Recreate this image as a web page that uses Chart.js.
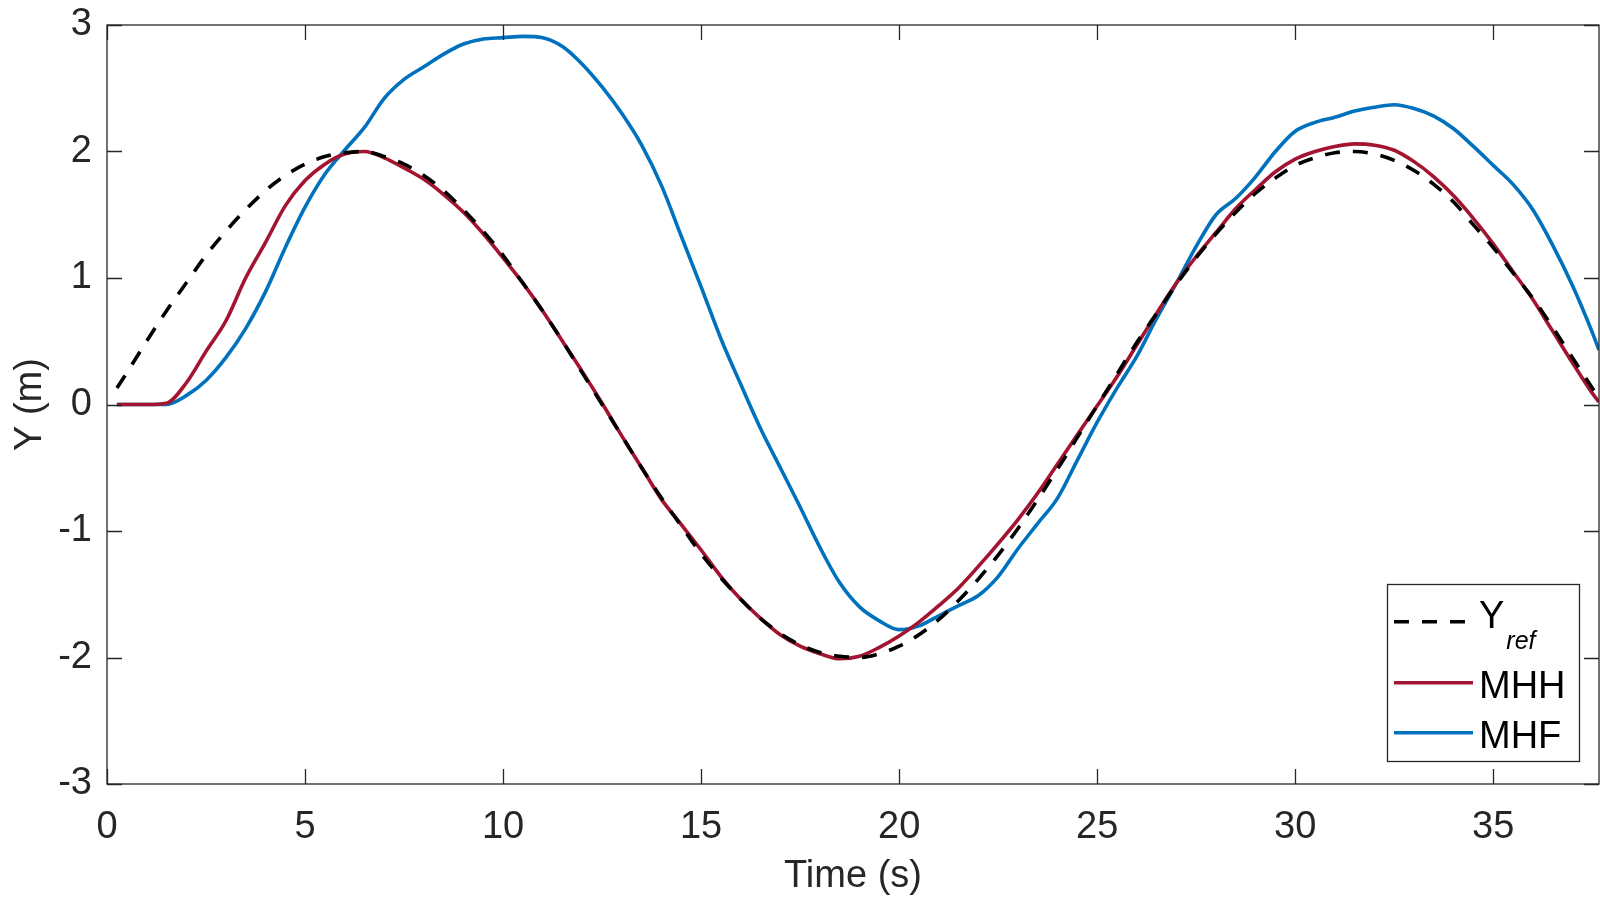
<!DOCTYPE html>
<html>
<head>
<meta charset="utf-8">
<script src="https://cdn.jsdelivr.net/npm/chart.js@4.4.1/dist/chart.umd.min.js"></script>
<style>
  html, body { margin: 0; padding: 0; background: #ffffff; }
  #wrap { width: 1600px; height: 900px; position: relative; }
</style>
</head>
<body>
<div id="wrap"><canvas id="c"></canvas></div>
<script>
// ---- data ----
const time = [0.25, 0.5, 1, 1.5, 2, 2.5, 3, 3.5, 4, 4.5, 5, 5.5, 6, 6.5, 7, 7.5, 8, 8.5, 9, 9.5,
  10, 10.5, 11, 11.5, 12, 12.5, 13, 13.5, 14, 14.5, 15, 15.5, 16, 16.5, 17, 17.5, 18, 18.5, 19, 19.5,
  20, 20.5, 21, 21.5, 22, 22.5, 23, 23.5, 24, 24.5, 25, 25.5, 26, 26.5, 27, 27.5, 28, 28.5, 29, 29.5,
  30, 30.5, 31, 31.5, 32, 32.5, 33, 33.5, 34, 34.5, 35, 35.5, 36, 36.5, 37, 37.5, 37.67];

const yRef = [0.13, 0.25, 0.50, 0.74, 0.96, 1.18, 1.37, 1.54, 1.69, 1.81, 1.90, 1.96, 1.99, 2.00, 1.96, 1.90, 1.81, 1.69, 1.54, 1.37,
  1.18, 0.96, 0.74, 0.50, 0.25, 0.00, -0.25, -0.50, -0.74, -0.96, -1.18, -1.37, -1.54, -1.69, -1.81, -1.90, -1.96, -1.99, -2.00, -1.97,
  -1.91, -1.82, -1.70, -1.55, -1.38, -1.19, -0.98, -0.75, -0.51, -0.26, -0.01, 0.24, 0.49, 0.72, 0.95, 1.16, 1.35, 1.52, 1.67, 1.79,
  1.89, 1.95, 1.99, 2.00, 1.98, 1.93, 1.85, 1.74, 1.60, 1.42, 1.24, 1.04, 0.84, 0.61, 0.37, 0.13, 0.05];

const mhh = [0, 0, 0, 0.01, 0.17, 0.42, 0.66, 1.00, 1.28, 1.57, 1.77, 1.90, 1.98, 2.00, 1.95, 1.87, 1.78, 1.66, 1.52, 1.35,
  1.16, 0.96, 0.74, 0.50, 0.26, 0.01, -0.25, -0.50, -0.75, -0.95, -1.15, -1.36, -1.54, -1.69, -1.82, -1.91, -1.97, -2.01, -1.99, -1.92,
  -1.83, -1.72, -1.59, -1.45, -1.28, -1.10, -0.91, -0.70, -0.47, -0.24, -0.01, 0.22, 0.47, 0.72, 0.96, 1.17, 1.36, 1.55, 1.70, 1.84,
  1.94, 2.00, 2.04, 2.06, 2.05, 2.01, 1.92, 1.80, 1.65, 1.47, 1.27, 1.05, 0.83, 0.58, 0.33, 0.09, 0.02];

const mhf = [0, 0, 0, 0.00, 0.07, 0.19, 0.37, 0.60, 0.89, 1.24, 1.56, 1.82, 2.01, 2.19, 2.42, 2.57, 2.67, 2.77, 2.85, 2.89,
  2.90, 2.91, 2.90, 2.83, 2.69, 2.51, 2.30, 2.05, 1.73, 1.33, 0.93, 0.52, 0.16, -0.19, -0.50, -0.81, -1.13, -1.41, -1.60, -1.71,
  -1.78, -1.75, -1.67, -1.59, -1.51, -1.36, -1.14, -0.94, -0.74, -0.44, -0.14, 0.13, 0.38, 0.68, 0.96, 1.25, 1.50, 1.63, 1.80, 2.00,
  2.16, 2.23, 2.27, 2.32, 2.35, 2.37, 2.34, 2.28, 2.18, 2.04, 1.89, 1.74, 1.54, 1.26, 0.94, 0.57, 0.43];

const xTicks = [0, 5, 10, 15, 20, 25, 30, 35];
const yTicks = [-3, -2, -1, 0, 1, 2, 3];
const xMin = 0, xMax = 37.67, yMin = -3, yMax = 3;
const xTitle = 'Time (s)';
const yTitle = 'Y (m)';
const seriesNames = ['Y', 'MHH', 'MHF'];
const refSubscript = 'ref';

// ---- styling ----
const FONT = "'Liberation Sans', Arial, Helvetica, sans-serif";
const AXIS_COLOR = '#262626';

function pts(values) { return time.map((t, i) => ({ x: t, y: values[i] })); }

const frameAndLegend = {
  id: 'frameAndLegend',
  afterDatasetsDraw(chart) {
    const ctx = chart.ctx;
    const a = chart.chartArea;
    const xs = chart.scales.x, ys = chart.scales.y;
    ctx.save();
    ctx.strokeStyle = AXIS_COLOR;
    ctx.lineWidth = 1.3;
    ctx.strokeRect(a.left, a.top, a.right - a.left, a.bottom - a.top);
    const tl = 15;
    ctx.beginPath();
    xTicks.forEach(v => {
      const px = Math.round(xs.getPixelForValue(v)) + 0.5;
      ctx.moveTo(px, a.bottom); ctx.lineTo(px, a.bottom - tl);
      ctx.moveTo(px, a.top); ctx.lineTo(px, a.top + tl);
    });
    yTicks.forEach(v => {
      const py = Math.round(ys.getPixelForValue(v)) + 0.5;
      ctx.moveTo(a.left, py); ctx.lineTo(a.left + tl, py);
      ctx.moveTo(a.right, py); ctx.lineTo(a.right - tl, py);
    });
    ctx.stroke();
    ctx.restore();
  },
  afterDraw(chart) {
    const ctx = chart.ctx;
    const a = chart.chartArea;
    const w = 192, h = 177;
    const right = a.right - 20, bottom = a.bottom - 23;
    const left = right - w, top = bottom - h;
    ctx.save();
    ctx.fillStyle = '#ffffff';
    ctx.fillRect(left, top, w, h);
    ctx.strokeStyle = AXIS_COLOR;
    ctx.lineWidth = 1.3;
    ctx.strokeRect(left + 0.5, top + 0.5, w, h);
    const rows = [
      { lineY: 37.7, base: 44 },
      { lineY: 98.7, base: 114 },
      { lineY: 148.7, base: 164 }
    ];
    chart.data.datasets.forEach((ds, i) => {
      const r = rows[i];
      ctx.beginPath();
      ctx.strokeStyle = ds.borderColor;
      ctx.lineWidth = ds.borderWidth;
      ctx.setLineDash(ds.borderDash || []);
      ctx.lineCap = 'butt';
      ctx.moveTo(left + 7, top + r.lineY);
      ctx.lineTo(left + 86, top + r.lineY);
      ctx.stroke();
      ctx.setLineDash([]);
      ctx.fillStyle = '#000000';
      ctx.textBaseline = 'alphabetic';
      ctx.textAlign = 'left';
      ctx.font = '38px ' + FONT;
      ctx.fillText(seriesNames[i], left + 92, top + r.base);
      if (i === 0) {
        const wY = ctx.measureText(seriesNames[0]).width;
        ctx.font = 'italic 25px ' + FONT;
        ctx.fillText(refSubscript, left + 92 + wY + 2, top + 65);
      }
    });
    ctx.restore();
  }
};

const chart = new Chart(document.getElementById('c'), {
  type: 'line',
  data: {
    datasets: [
      { label: 'Yref', data: pts(yRef), borderColor: '#000000', borderWidth: 3.6, borderDash: [15, 13],
        pointRadius: 0, fill: false, cubicInterpolationMode: 'monotone' },
      { label: 'MHH', data: pts(mhh), borderColor: '#A2142F', borderWidth: 3.6,
        pointRadius: 0, fill: false, cubicInterpolationMode: 'monotone' },
      { label: 'MHF', data: pts(mhf), borderColor: '#0072BD', borderWidth: 3.6,
        pointRadius: 0, fill: false, cubicInterpolationMode: 'monotone' }
    ]
  },
  options: {
    responsive: true,
    maintainAspectRatio: false,
    animation: false,
    devicePixelRatio: 1,
    layout: { padding: { top: 25, right: 1, bottom: 0, left: 0 } },
    plugins: { legend: { display: false }, tooltip: { enabled: false } },
    scales: {
      x: {
        type: 'linear', min: xMin, max: xMax,
        grid: { display: false, drawTicks: false },
        border: { display: false },
        afterBuildTicks: s => { s.ticks = xTicks.map(v => ({ value: v })); },
        afterFit: s => { s.height = 116; s.paddingLeft = 0; s.paddingRight = 0; },
        ticks: { color: AXIS_COLOR, padding: 21, maxRotation: 0, autoSkip: false,
          font: { family: FONT, size: 38 }, callback: v => String(v) },
        title: { display: true, text: xTitle, color: AXIS_COLOR,
          font: { family: FONT, size: 38 }, padding: { top: 0, bottom: 1 } }
      },
      y: {
        type: 'linear', min: yMin, max: yMax,
        grid: { display: false, drawTicks: false },
        border: { display: false },
        afterBuildTicks: s => { s.ticks = yTicks.map(v => ({ value: v })); },
        afterFit: s => { s.width = 107; s.paddingTop = 0; s.paddingBottom = 0; },
        ticks: { color: AXIS_COLOR, padding: 15, autoSkip: false,
          font: { family: FONT, size: 38 }, callback: v => String(v) },
        title: { display: true, text: yTitle, color: AXIS_COLOR,
          font: { family: FONT, size: 38 }, padding: { top: 8, bottom: 0 } }
      }
    }
  },
  plugins: [frameAndLegend]
});
</script>
</body>
</html>
